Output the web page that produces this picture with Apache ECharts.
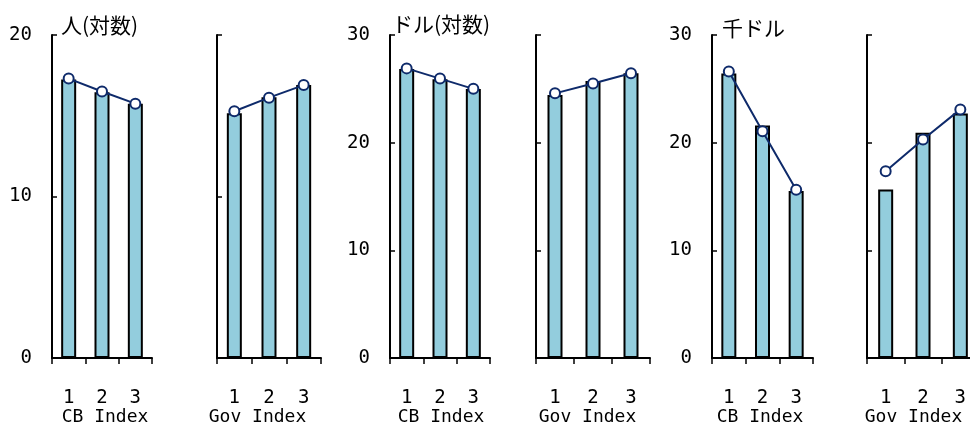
<!DOCTYPE html>
<html>
<head>
<meta charset="utf-8">
<script src="https://cdn.jsdelivr.net/npm/echarts@6/dist/echarts.min.js"></script>
<style>
  html, body { margin: 0; padding: 0; background: #fff; }
  #chart { width: 970px; height: 426px; }
</style>
</head>
<body>
<div id="chart"></div>
<script>
// Categories and group labels under each small panel
const categories = ['1', '2', '3'];
const groupNames = ['CB Index', 'Gov Index'];
const unitLabels = ['人(対数)', 'ドル(対数)', '千ドル'];
const yMax = [20, 30, 30];
const yStep = 10;

// Population (log)
const popCbBars  = [17.25, 16.45, 15.75];
const popCbLine  = [17.3, 16.5, 15.75];
const popGovBars = [15.15, 16.15, 16.9];
const popGovLine = [15.28, 16.12, 16.9];

// Dollars (log)
const usdCbBars  = [26.85, 25.9, 24.98];
const usdCbLine  = [26.9, 25.95, 25.0];
const usdGovBars = [24.42, 25.72, 26.45];
const usdGovLine = [24.58, 25.5, 26.45];

// Thousand dollars
const kusdCbBars  = [26.43, 21.6, 15.5];
const kusdCbLine  = [26.6, 21.05, 15.63];
const kusdGovBars = [15.66, 20.92, 22.72];
const kusdGovLine = [17.34, 20.3, 23.09];

const panelData = [
  { bars: popCbBars,   line: popCbLine,   pair: 0, group: 0 },
  { bars: popGovBars,  line: popGovLine,  pair: 0, group: 1 },
  { bars: usdCbBars,   line: usdCbLine,   pair: 1, group: 0 },
  { bars: usdGovBars,  line: usdGovLine,  pair: 1, group: 1 },
  { bars: kusdCbBars,  line: kusdCbLine,  pair: 2, group: 0 },
  { bars: kusdGovBars, line: kusdGovLine, pair: 2, group: 1 }
];

// Layout of each panel: plot left edge, plot width, group label shift,
// unit label gap above the axis and its left inset
const layout = [
  { left: 52,  width: 100, shift: 3,    unitGap: 10, unitInset: 9 },
  { left: 217, width: 104, shift: -11.5 },
  { left: 390, width: 100, shift: 1,    unitGap: 11, unitInset: 2 },
  { left: 536, width: 114, shift: -5.5 },
  { left: 712, width: 101, shift: -2.5, unitGap: 7,  unitInset: 10 },
  { left: 867, width: 112, shift: -9.5 }
];

const monoFont = 'DejaVu Sans Mono';
const cjkFont = 'Noto Sans CJK JP';
const barFill = '#93CDDD';
const navy = '#0E2A6A';

const grids = [], xAxes = [], yAxes = [], series = [];

panelData.forEach((p, i) => {
  const L = layout[i];
  const isLeft = p.group === 0;
  grids.push({
    left: L.left, width: L.width, top: 35, bottom: 68,
    containLabel: false, outerBoundsMode: 'none'
  });

  const pad = L.shift >= 0 ? [0, 0, 0, 2 * L.shift] : [0, -2 * L.shift, 0, 0];
  xAxes.push({
    type: 'category',
    gridIndex: i,
    data: categories,
    axisLine: { lineStyle: { color: '#000', width: 2 } },
    axisTick: { show: true, length: 6, lineStyle: { color: '#000', width: 1.5 } },
    axisLabel: { margin: 31, fontSize: 19, fontFamily: monoFont, color: '#000' },
    name: groupNames[p.group],
    nameLocation: 'middle',
    nameGap: 59,
    nameMoveOverlap: false,
    nameTextStyle: {
      fontSize: 18, fontFamily: monoFont, color: '#000',
      verticalAlign: 'middle', padding: pad
    }
  });

  yAxes.push({
    type: 'value',
    gridIndex: i,
    min: 0,
    max: yMax[p.pair],
    interval: yStep,
    axisLine: { show: true, lineStyle: { color: '#000', width: 2 } },
    axisTick: { show: true, inside: true, length: 5, lineStyle: { color: '#000', width: 1.5 } },
    axisLabel: { show: isLeft, margin: 20, fontSize: 19, fontFamily: monoFont, color: '#000' },
    splitLine: { show: false },
    name: isLeft ? unitLabels[p.pair] : '',
    nameLocation: 'end',
    nameGap: L.unitGap || 10,
    nameMoveOverlap: false,
    nameTextStyle: {
      align: 'left', verticalAlign: 'middle',
      fontSize: 21, fontFamily: cjkFont, color: '#000',
      padding: [0, 0, 0, L.unitInset || 0]
    }
  });

  series.push({
    type: 'bar',
    xAxisIndex: i,
    yAxisIndex: i,
    data: p.bars,
    barWidth: 15,
    itemStyle: { color: barFill, borderColor: '#000', borderWidth: 2 },
    z: 2
  });
  series.push({
    type: 'line',
    xAxisIndex: i,
    yAxisIndex: i,
    data: p.line,
    symbol: 'circle',
    symbolSize: 10,
    lineStyle: { color: navy, width: 2 },
    itemStyle: { color: '#fff', borderColor: navy, borderWidth: 2 },
    z: 3
  });
});

const chart = echarts.init(document.getElementById('chart'), null, { renderer: 'canvas' });
chart.setOption({
  animation: false,
  backgroundColor: '#fff',
  grid: grids,
  xAxis: xAxes,
  yAxis: yAxes,
  series: series
});
</script>
</body>
</html>
